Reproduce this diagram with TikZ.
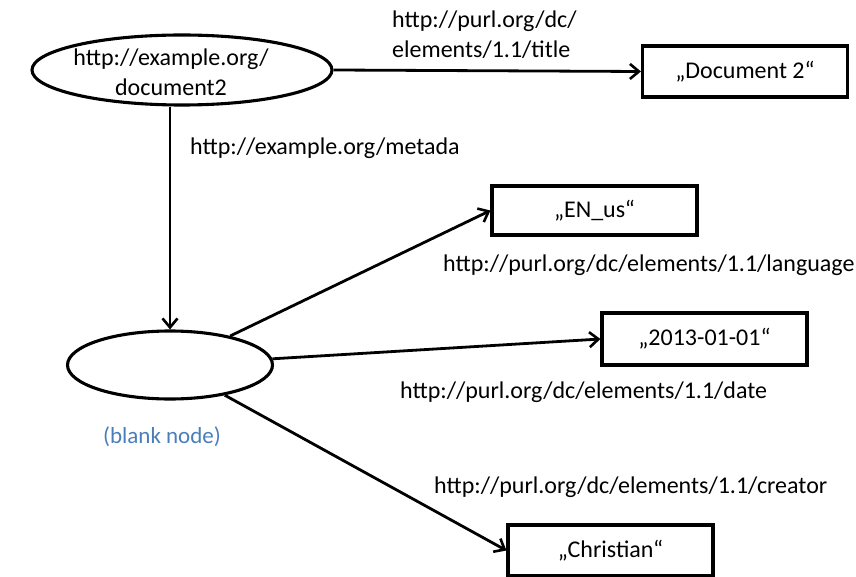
\documentclass[tikz,border=0pt]{standalone}
\usepackage{fontspec}
\setmainfont{Carlito}
\usetikzlibrary{shapes.geometric,arrows.meta}
\definecolor{labelblue}{RGB}{74,126,187}
\begin{document}
\begin{tikzpicture}[x=1pt,y=-1pt,
  every node/.style={font=\fontsize{24}{30}\selectfont},
  res/.style={ellipse,draw,line width=3.1pt,inner sep=0pt,align=center},
  lit/.style={rectangle,draw,line width=3.1pt,minimum width=205pt,minimum height=51pt,inner sep=0pt},
  pred/.style={anchor=west,align=left,inner sep=0pt},
  link/.style={line width=2.8pt,-{Straight Barb[length=9pt,width=15pt,line width=2.6pt]}}]
\useasboundingbox (0,0) rectangle (856,577);

% resources
\node[res,minimum width=300pt,minimum height=70pt] (doc) at (182,70) {};
\node[align=center,inner sep=0pt] (doctext) at (171,72) {http://example.org/\\document2};
\node[res,minimum width=205pt,minimum height=68pt] (blank) at (170,365) {};
\node[inner sep=0pt,text=labelblue,font=\fontsize{23}{28}\selectfont] (blanklbl) at (162,437) {(blank node)};

% literals
\node[lit] (title) at (745,71.5) {„Document 2“};
\node[lit,minimum height=49pt] (enus) at (594.5,210.5) {„EN\_us“};
\node[lit,minimum height=52pt] (date) at (704.5,339) {„2013-01-01“};
\node[lit] (chr) at (610.5,550.5) {„Christian“};

% predicate labels
\node[pred] (ptitle) at (392,35) {http://purl.org/dc/\\elements/1.1/title};
\node[pred] (pmeta) at (190,148) {http://example.org/metada};
\node[pred] (plang) at (443,265) {http://purl.org/dc/elements/1.1/language};
\node[pred] (pdate) at (400,392) {http://purl.org/dc/elements/1.1/date};
\node[pred] (pcre) at (434,487) {http://purl.org/dc/elements/1.1/creator};

% edges
\draw[link] (doc.east) -- (title.west);
\draw[link] (doc.south -| blank.north) -- (blank.north);
\draw[link] (blank) -- (enus.west);
\draw[link] (blank) -- (date.west);
\draw[link] (blank) -- (chr.west);
\end{tikzpicture}
\end{document}
